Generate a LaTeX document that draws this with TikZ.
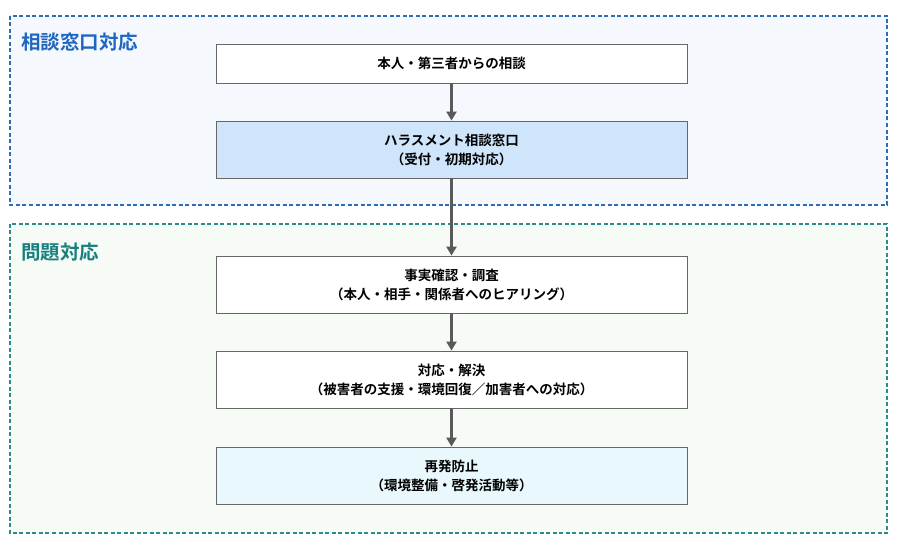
\documentclass[tikz,border=0pt]{standalone}
\usepackage{fontspec}
\setmainfont{Noto Sans CJK JP}[BoldFont={Noto Sans CJK JP Bold}]
\usetikzlibrary{arrows.meta}
\definecolor{frameA}{HTML}{2E6DB4}
\definecolor{frameB}{HTML}{2E8B8B}
\definecolor{titleA}{HTML}{1F66C1}
\definecolor{titleB}{HTML}{17807F}
\definecolor{bgA}{HTML}{F5F9FD}
\definecolor{bgB}{HTML}{F6FBF6}
\definecolor{fillBlue}{HTML}{CFE5FB}
\definecolor{fillCyan}{HTML}{E8F8FC}
\definecolor{arr}{HTML}{5A5A5A}
\begin{document}
\begin{tikzpicture}[x=1pt,y=-1pt,
  flowbox/.style={draw=black!60,line width=0.8pt,minimum width=471pt,align=center,font=\fontsize{13.5}{19}\selectfont\bfseries,inner sep=0pt},
  one/.style={flowbox,minimum height=39pt},
  two/.style={flowbox,minimum height=57pt},
  frame/.style={line width=1.1pt,dash pattern=on 4pt off 2.5pt},
  title/.style={anchor=west,font=\fontsize{19.5}{22}\selectfont\bfseries,inner sep=0pt},
  link/.style={-{Triangle[length=9pt,width=10pt]},line width=3pt,draw=arr}]
\useasboundingbox (0,0) rectangle (900,548);
\draw[frame,draw=frameA,fill=bgA] (10,16) rectangle (887,205);
\draw[frame,draw=frameB,fill=bgB] (10,224) rectangle (887,533);
\node[title,text=titleA] (t1) at (21,42) {相談窓口対応};
\node[title,text=titleB] (t2) at (21,252) {問題対応};
\node[one,fill=white] (b1) at (451.5,63.5) {本人・第三者からの相談};
\node[two,fill=fillBlue] (b2) at (451.5,149.5) {ハラスメント相談窓口\\（受付・初期対応）};
\node[two,fill=white] (b3) at (451.5,284.5) {事実確認・調査\\（本人・相手・関係者へのヒアリング）};
\node[two,fill=white] (b4) at (451.5,379.5) {対応・解決\\（被害者の支援・環境回復／加害者への対応）};
\node[two,fill=fillCyan] (b5) at (451.5,475.5) {再発防止\\（環境整備・啓発活動等）};
\draw[link] (b1) -- (b2);
\draw[link] (b2) -- (b3);
\draw[link] (b3) -- (b4);
\draw[link] (b4) -- (b5);
\end{tikzpicture}
\end{document}
